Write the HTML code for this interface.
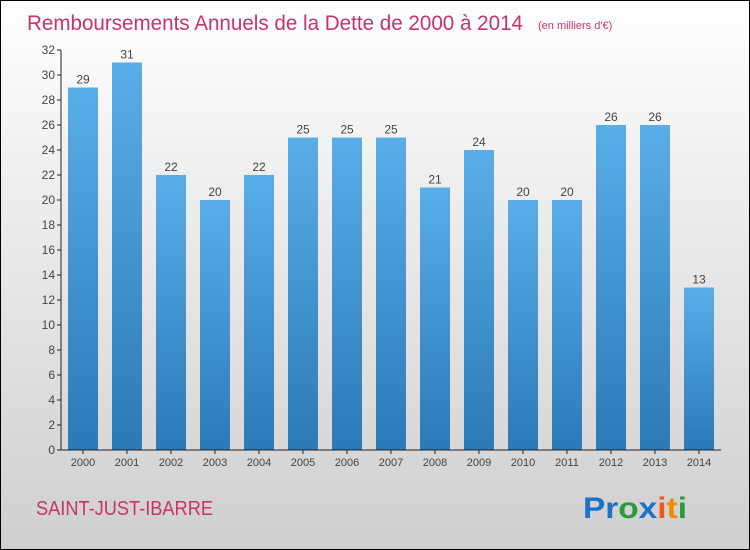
<!DOCTYPE html>
<html><head><meta charset="utf-8"><style>
body{margin:0}
#c{position:relative;width:748px;height:548px;border:1px solid #000;background:linear-gradient(#ffffff,#f0f0f0 30%,#cfcfcf);font-family:"Liberation Sans",sans-serif;overflow:hidden}
</style></head><body>
<div id="c">
<svg width="748" height="548">
<defs><linearGradient id="g" x1="0" y1="0" x2="0" y2="1"><stop offset="0" stop-color="#5aaee8"/><stop offset="1" stop-color="#2a7ab8"/></linearGradient></defs>
<text x="26" y="29" font-size="21" fill="#c8336a" textLength="496" lengthAdjust="spacingAndGlyphs">Remboursements Annuels de la Dette de 2000 à 2014</text>
<text x="537" y="28" font-size="11" fill="#c8336a">(en milliers d'€)</text>
<g id="plot"></g>
<text x="35" y="514" font-size="20" fill="#c8336a" textLength="177" lengthAdjust="spacingAndGlyphs">SAINT-JUST-IBARRE</text>
<text x="582" y="517" font-size="30" font-weight="bold" textLength="104" lengthAdjust="spacingAndGlyphs"><tspan fill="#1a73c8">Pr</tspan><tspan fill="#2a9a3a">o</tspan><tspan fill="#1a73c8">x</tspan><tspan fill="#ee5a1a">i</tspan><tspan fill="#f08a00">t</tspan><tspan fill="#2a9a3a">i</tspan></text>
</svg>
</div>
<script>
const years=["2000","2001","2002","2003","2004","2005","2006","2007","2008","2009","2010","2011","2012","2013","2014"];
const values=[29,31,22,20,22,25,25,25,21,24,20,20,26,26,13];
const yTicks=[0,2,4,6,8,10,12,14,16,18,20,22,24,26,28,30,32];
const NS="http://www.w3.org/2000/svg";
const g=document.getElementById('plot');
const x0=60,step=44,y0=449,sc=12.5;
const yS=v=>y0-v*sc, xS=i=>x0+i*step;
function mk(t,a,txt){const e=document.createElementNS(NS,t);for(const k in a)e.setAttribute(k,a[k]);if(txt!==undefined)e.textContent=txt;g.appendChild(e);return e;}
yTicks.forEach(v=>{
 const l=mk('line',{x1:x0-4,x2:x0,y1:yS(v),y2:yS(v),stroke:'#222'});
 
 
 const t=mk('text',{x:x0-6,y:yS(v)+4,'font-size':12,fill:'#444','text-anchor':'end'},v);
 
 
});
values.forEach((v,i)=>{
 const r=mk('rect',{x:xS(i)+7,y:yS(v),width:30,height:v*sc,fill:'url(#g)'});
 
 
 const t=mk('text',{x:xS(i)+22,y:yS(v)-4,'font-size':12,fill:'#444','text-anchor':'middle'},v);
 
 
 const xl=mk('text',{x:xS(i)+22,y:y0+16,'font-size':11,fill:'#444','text-anchor':'middle'},years[i]);
 
 
 const xt=mk('line',{x1:xS(i)+22,x2:xS(i)+22,y1:y0,y2:y0+4,stroke:'#222'});
 
 
});
const ya=mk('line',{x1:x0,x2:x0,y1:yS(32),y2:y0,stroke:'#222'});


const xa=mk('line',{x1:x0,x2:x0+15*step,y1:y0,y2:y0,stroke:'#222'});


</script>
</body></html>
